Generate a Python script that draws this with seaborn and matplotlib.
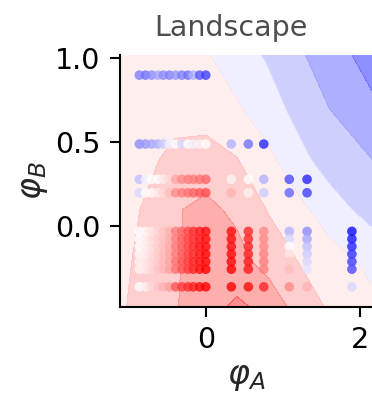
import numpy as np
import pandas as pd
import matplotlib
matplotlib.use('Agg')
import matplotlib.pyplot as plt
import seaborn as sns

grid_a = [-1.11, -0.8, -0.4, 0.0, 0.4, 0.8, 1.2, 1.6, 2.15]
grid_b = [-0.48, -0.2, 0.1, 0.4, 0.7, 1.02]
surface = [
    [0.22, 0.33, 0.48, 0.65, 0.80, 0.68, 0.40, 0.22, 0.05],
    [0.20, 0.30, 0.47, 0.62, 0.58, 0.40, 0.24, 0.10, -0.06],
    [0.15, 0.27, 0.48, 0.56, 0.45, 0.24, 0.07, -0.13, -0.35],
    [0.08, 0.18, 0.32, 0.36, 0.26, 0.06, -0.17, -0.36, -0.50],
    [0.12, 0.14, 0.15, 0.13, 0.03, -0.13, -0.33, -0.50, -0.70],
    [0.10, 0.08, 0.05, 0.02, -0.12, -0.28, -0.46, -0.64, -0.85],
]
levels = [-1, -0.75, -0.5, -0.25, 0, 0.25, 0.5, 0.75, 1]

# sampled points
main_cols = [-0.86, -0.78, -0.70, -0.62, -0.55, -0.47, -0.39, -0.31, -0.23, -0.16, -0.08, 0.0]
extra_cols = [0.33, 0.55, 0.75, 1.08, 1.31, 1.89]

vals_090 = [-0.5, -0.55, -0.45, -0.35, -0.45, -0.5, -0.4, -0.5, -0.55, -0.3, -0.65, -0.75]
vals_049 = [-0.45, -0.4, -0.35, -0.3, -0.2, -0.05, 0.0, -0.15, 0.0, -0.05, 0.05, 0.0,
            -0.3, -0.55, -0.85]
vals_028 = [-0.25, -0.05, 0.0, 0.0, 0.08, 0.15, 0.35, 0.45, 0.5, 0.5, 0.55, 0.6,
            0.05, 0.0, -0.3, -0.7, -0.85]
vals_020 = [-0.15, 0.0, 0.02, 0.08, 0.15, 0.25, 0.45, 0.5, 0.55, 0.6, 0.65, 0.7,
            0.3, 0.05, -0.2, -0.6, -0.75]
block_rows = [-0.03, -0.075, -0.12, -0.165, -0.21, -0.255]
block_vals = [
    [0.0, 0.03, 0.1, 0.16, 0.22, 0.3, 0.5, 0.6, 0.7, 0.8, 0.88, 0.95, 0.95, 0.85, 0.45, -0.3, -0.45, -0.95],
    [0.0, 0.05, 0.12, 0.18, 0.24, 0.32, 0.5, 0.62, 0.72, 0.8, 0.88, 0.95, 0.95, 0.85, 0.45, -0.15, -0.35, -0.9],
    [0.0, 0.05, 0.12, 0.18, 0.25, 0.33, 0.52, 0.62, 0.72, 0.82, 0.9, 0.95, 0.95, 0.87, 0.45, 0.0, -0.25, -0.85],
    [0.03, 0.06, 0.12, 0.2, 0.26, 0.34, 0.52, 0.64, 0.74, 0.82, 0.9, 0.97, 0.97, 0.87, 0.48, 0.1, -0.2, -0.8],
    [0.05, 0.08, 0.14, 0.2, 0.27, 0.35, 0.55, 0.65, 0.75, 0.85, 0.92, 0.97, 0.97, 0.9, 0.5, 0.2, -0.15, -0.75],
    [0.05, 0.08, 0.15, 0.22, 0.28, 0.36, 0.55, 0.66, 0.76, 0.85, 0.93, 1.0, 1.0, 0.9, 0.5, 0.25, -0.1, -0.7],
]
vals_m036 = [0.0, 0.06, 0.15, 0.22, 0.3, 0.38, 0.65, 0.75, 0.82, 0.88, 0.95, 1.0,
             1.0, 0.95, 0.85, 0.45, 0.3, -0.15]

all_cols = main_cols + extra_cols
rows = [(0.9, vals_090), (0.49, vals_049), (0.28, vals_028), (0.2, vals_020), (-0.36, vals_m036)]
rows += list(zip(block_rows, block_vals))
recs = []
for yb, vals in rows:
    for xa, v in zip(all_cols, vals):
        recs.append({'phi_a': xa, 'phi_b': yb, 'val': v})
pts = pd.DataFrame(recs)

sns.set_theme(style='ticks')
plt.rcParams['font.family'] = ['DejaVu Sans']

fig = plt.figure(figsize=(3.72, 4.03), dpi=100)
ax = fig.add_axes([120 / 372, 96 / 403, 252 / 372, 252 / 403])

ax.contourf(grid_a, grid_b, np.array(surface), levels=levels, cmap='bwr',
            vmin=-1, vmax=1, alpha=0.5)
sns.scatterplot(data=pts, x='phi_a', y='phi_b', hue='val', palette='bwr',
                hue_norm=(-1, 1), s=48, linewidth=0, alpha=0.8, legend=False, ax=ax)

ax.set_xlim(-1.11, 2.15)
ax.set_ylim(-0.48, 1.02)
ax.set_xticks([0, 2])
ax.set_yticks([0.0, 0.5, 1.0])
ax.set_yticklabels(['0.0', '0.5', '1.0'])
ax.tick_params(labelsize=20.5, length=7, width=1.5, pad=7, colors='black')
for sp in ax.spines.values():
    sp.set_linewidth(1.5)
    sp.set_color('black')
sns.despine(ax=ax)
ax.set_xlabel(r'$\boldsymbol{\varphi_A}$', fontsize=24)
ax.set_ylabel(r'$\boldsymbol{\varphi_B}$', fontsize=24)
ax.set_title('Landscape', fontsize=20.5, color='#4d4d4d', x=0.44, pad=14)

fig.savefig('out.png', dpi=100)
